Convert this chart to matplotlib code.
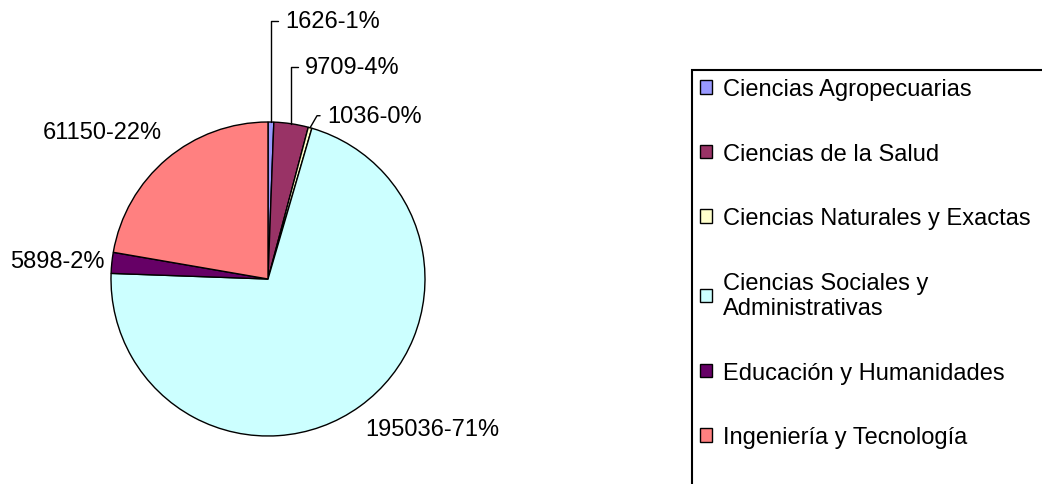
import matplotlib
matplotlib.use("Agg")
from matplotlib import pyplot as plt
from matplotlib.patches import Rectangle
import numpy as np

plt.rcParams['font.family'] = ['Liberation Sans', 'DejaVu Sans']

categories = ["Ciencias Agropecuarias", "Ciencias de la Salud",
              "Ciencias Naturales y Exactas",
              "Ciencias Sociales y\nAdministrativas",
              "Educación y Humanidades", "Ingeniería y Tecnología"]
values = [1626, 9709, 1036, 195036, 5898, 61150]
colors = ["#9999FF", "#993366", "#FFFFCC", "#CCFFFF", "#660066", "#FF8080"]

# label layout (axes data units, pie radius = 1)
label_xy = [(0.108, 1.643), (0.236, 1.35), (0.376, 1.04),
            (0.618, -0.955), (-1.04, 0.115), (-0.675, 0.936)]
label_ha = ['left', 'left', 'left', 'left', 'right', 'right']
leader_angle = [90, 90, 60, None, None, None]

total = sum(values)
labels = ["%d-%d%%" % (v, int(round(v / total * 100))) for v in values]

fig = plt.figure(figsize=(10.42, 4.85), dpi=100)
ax = fig.add_axes([111 / 1042, 48 / 485, 314 / 1042, 314 / 485])
wedges, _ = ax.pie(values, colors=colors, startangle=90, counterclock=False,
                   wedgeprops=dict(edgecolor='black', linewidth=1.0))
ax.set_xlim(-1, 1)
ax.set_ylim(-1, 1)

for w, lab, xy, ha, ang in zip(wedges, labels, label_xy, label_ha,
                                leader_angle):
    if ang is None:
        ax.text(xy[0], xy[1], lab, ha=ha, va='center', fontsize=17)
    else:
        mid = np.deg2rad((w.theta1 + w.theta2) / 2)
        ax.annotate(lab, xy=(np.cos(mid), np.sin(mid)), xytext=xy,
                    ha=ha, va='center', fontsize=17,
                    arrowprops=dict(arrowstyle='-', color='black', lw=1.0,
                                    relpos=(0, 0.5), shrinkA=3, shrinkB=0,
                                    connectionstyle="angle,angleA=0,angleB=%d,rad=0" % ang))

# legend box runs off the right and bottom edges of the picture
fig.patches.append(Rectangle((692 / 1042, -0.1), 0.5, 1.1 - 71 / 485,
                             transform=fig.transFigure, fill=False,
                             edgecolor='black', linewidth=1.5))

leg = fig.legend(wedges, categories, loc='upper left',
                 bbox_to_anchor=(692 / 1042, 1 - 71 / 485),
                 borderaxespad=0, fontsize=17, frameon=False,
                 borderpad=0.35, handlelength=0.5, handleheight=0.5,
                 handletextpad=0.45, labelspacing=1.8)
for h in leg.legend_handles:
    h.set_edgecolor('black')
    h.set_linewidth(1.0)

plt.savefig("out.png", dpi=100)
